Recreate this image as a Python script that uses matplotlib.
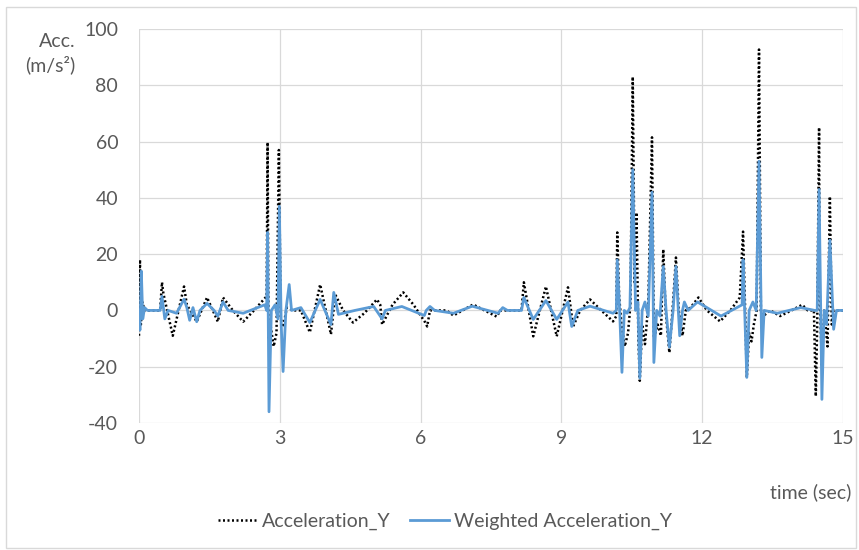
import matplotlib.pyplot as plt
from matplotlib.patches import Rectangle

# Acceleration_Y (raw)
t_acc = [0.00, 0.02, 0.04, 0.07, 0.12, 0.45, 0.49, 0.52, 0.72, 0.96, 1.02, 1.23, 1.45, 1.68,
         1.79, 2.00, 2.22, 2.45, 2.68, 2.72, 2.74, 2.76, 2.80, 2.87, 2.93, 2.98, 3.02, 3.07,
         3.15, 3.30, 3.45, 3.64, 3.86, 4.09, 4.18, 4.35, 4.56, 4.80, 5.07, 5.14, 5.18, 5.40,
         5.63, 5.85, 6.10, 6.14, 6.20, 6.55, 6.70, 7.12, 7.62, 7.70, 8.15, 8.20, 8.40, 8.67,
         8.90, 9.14, 9.25, 9.40, 9.61, 9.85, 10.10, 10.17, 10.19, 10.23, 10.28, 10.35, 10.42,
         10.47, 10.52, 10.56, 10.60, 10.64, 10.67, 10.72, 10.78, 10.85, 10.93, 10.97, 11.05,
         11.12, 11.17, 11.22, 11.30, 11.38, 11.44, 11.50, 11.58, 11.65, 11.75, 11.92, 12.10,
         12.38, 12.60, 12.80, 12.87, 12.91, 12.95, 13.00, 13.05, 13.10, 13.16, 13.21, 13.25,
         13.30, 13.45, 13.66, 13.90, 14.13, 14.25, 14.38, 14.42, 14.45, 14.49, 14.50, 14.55,
         14.60, 14.67, 14.72, 14.76, 14.80, 15.00]
acc_y = [-9, 18, -5, 3, 0, 0, 10, 6, -9, 8.5, 2, -4, 4.6, -4,
         4.6, 0, -4, 0, 4.3, 5, 59.7, -10, -5, -12.8, -8, 57, -3, -6,
         1, 0, 0, -7.8, 9.2, -8.5, 5.7, 0, -4.3, -1, 3.9, 2, -5, 2,
         6.4, 2, -4.3, -5.7, 0, 0, -1.8, 2.1, -2.2, 0, 0, 10, -9.2, 8.5,
         -9.2, 8.2, -5.7, 0, 3.9, 0, -3.9, -2, 27.7, 5, -5, -12.8, -8,
         2, 83, 10, 34.8, -10, -25, -5, -12, 2, 61.5, -10, -5,
         -9, 21.7, 0, -15, 3, 18.8, 0, -9, 0, 1, 4.6, 0,
         -3.9, 0, 4.6, 28, 3, -23.8, -8, -11, -5, 0, 92.7, 0,
         -2, 0, -2, 0, 2, 0, 0, -30.5, -5, 65, 8.5, -20,
         0, -12.8, 40.5, -5, 0, 0]

# Weighted Acceleration_Y
t_w = [0.00, 0.02, 0.05, 0.08, 0.12, 0.18, 0.45, 0.49, 0.55, 0.62, 0.80, 0.96, 1.02, 1.08,
       1.15, 1.23, 1.30, 1.45, 1.60, 1.68, 1.79, 1.90, 2.22, 2.68, 2.72, 2.74, 2.77, 2.82,
       2.90, 2.96, 2.99, 3.03, 3.07, 3.13, 3.20, 3.25, 3.45, 3.64, 3.86, 4.09, 4.15, 4.25,
       4.60, 5.00, 5.18, 5.25, 5.60, 6.08, 6.12, 6.20, 6.30, 6.70, 7.10, 7.65, 7.75, 7.85,
       8.15, 8.20, 8.40, 8.67, 8.90, 9.14, 9.22, 9.35, 9.61, 10.10, 10.17, 10.19, 10.24,
       10.29, 10.34, 10.40, 10.46, 10.52, 10.58, 10.63, 10.67, 10.72, 10.78, 10.85, 10.93,
       10.97, 11.03, 11.10, 11.17, 11.23, 11.30, 11.38, 11.44, 11.52, 11.58, 11.62, 11.70,
       11.90, 12.40, 12.85, 12.87, 12.95, 13.00, 13.08, 13.15, 13.21, 13.27, 13.32, 13.60,
       14.10, 14.40, 14.45, 14.49, 14.55, 14.60, 14.65, 14.72, 14.80, 14.86, 15.00]
w_acc_y = [0, -7, 14, -3, 1, 0, 0, 5, -3, 0, -1, 4, 1, -3.5,
           1, -4, 0, 2.5, 0, -2, 3, 0, -1, 2, 0, 27.7, -36, 0,
           2, -3, 37, -5, -21.7, 0, 9.2, 0, 1, -4.3, 3.9, -5, 6.4, -1.4,
           0, 1.4, -3, 0, 1.4, -1.8, 0, 1.4, 0, -1, 1.5, -1, 1, 0,
           0, 4.6, -3.2, 3.5, -3.2, 3, -5.7, 0, 1.5, -1, 0, 18, 0,
           -22, 0, -1, 1, 50, 0, 3, -24, 0, 3, -2, 42,
           -18.5, 0, -2, 15.6, 0, -13, 0, 15.6, -9, 0, 3, 0,
           3, -2, 2, 18, -23.8, 0, 3, 0, 53, -16.7, 0, -1,
           1, 0, 0, 43, -31.6, 0, -5, 25, -6.7, 0, 0]

x_ticks = [0, 3, 6, 9, 12, 15]
y_ticks = [-40, -20, 0, 20, 40, 60, 80, 100]

plt.rcParams['font.family'] = ['Lato', 'DejaVu Sans']
plt.rcParams['axes.unicode_minus'] = False
grey = '#595959'
fs = 14

fig = plt.figure(figsize=(8.59, 5.5), dpi=100)
fig.patches.append(Rectangle((0.007, 0.004), 0.989, 0.983, transform=fig.transFigure,
                             fill=False, edgecolor='#d9d9d9', lw=1))
ax = fig.add_axes([0.1618, 0.2309, 0.8196, 0.7164])

l1, = ax.plot(t_acc, acc_y, color='black', lw=1.8, ls=(0, (0.8, 1.0)), label='Acceleration_Y')
l2, = ax.plot(t_w, w_acc_y, color='#5B9BD5', lw=2, label='Weighted Acceleration_Y')

ax.set_xlim(0, 15)
ax.set_ylim(-40, 100)
ax.set_xticks(x_ticks)
ax.set_yticks(y_ticks)
ax.grid(True, color='#d9d9d9', lw=0.9)
ax.set_axisbelow(True)
for s in ax.spines.values():
    s.set_visible(False)
ax.tick_params(length=0, labelsize=fs, colors=grey)
ax.tick_params(axis='x', pad=5)
ax.tick_params(axis='y', pad=15)

fig.text(0.067, 0.924, 'Acc.', ha='center', va='center', fontsize=fs, color=grey)
fig.text(0.059, 0.882, '(m/s²)', ha='center', va='center', fontsize=fs, color=grey)
fig.text(0.991, 0.105, 'time (sec)', ha='right', va='center', fontsize=fs, color=grey)

leg = fig.legend(handles=[l1, l2], loc='center', bbox_to_anchor=(0.518, 0.052), ncol=2,
                 frameon=False, fontsize=fs, handlelength=2.0, handletextpad=0.25,
                 columnspacing=1.0)
for txt in leg.get_texts():
    txt.set_color(grey)

fig.savefig('out.png', dpi=100)
